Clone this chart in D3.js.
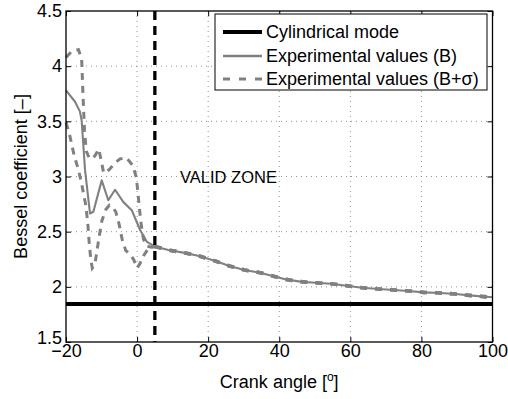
<!DOCTYPE html>
<html><head><meta charset="utf-8">
<script src="https://cdn.jsdelivr.net/npm/d3@7"></script>
<style>
html,body{margin:0;padding:0;background:#fff;}
svg text{font-family:"Liberation Sans",Arial,Helvetica,sans-serif;fill:#000;}
</style>
</head><body>
<svg id="chart" width="508" height="399"></svg>
<script>
// ---- data ----
const xTicks = [-20, 0, 20, 40, 60, 80, 100];
const yTicks = [1.5, 2, 2.5, 3, 3.5, 4, 4.5];
const cylindricalMode = 1.844;
const validZoneAngle = 5;

// Experimental values (B), left part
const bLeft = [
  [-20, 3.78], [-17.5, 3.68], [-16.1, 3.59], [-15.6, 3.51], [-14.65, 3.06],
  [-13.25, 2.665], [-12.3, 2.68], [-9.95, 2.965], [-8.1, 2.785], [-6.2, 2.88],
  [-3.9, 2.77], [-1.5, 2.695], [0.85, 2.515], [2.7, 2.41], [5.0, 2.365]
];
// Upper dashed curve (B+sigma), left part
const upperLeft = [
  [-20, 4.08], [-18.5, 4.13], [-16.5, 4.15], [-15.6, 4.07], [-15.2, 3.72],
  [-14.8, 3.42], [-14.3, 3.23], [-13.5, 3.17], [-12.6, 3.16], [-11.8, 3.19],
  [-10.8, 3.25], [-10.0, 3.13], [-9.4, 3.03], [-7.9, 3.06], [-6.3, 3.12],
  [-4.8, 3.16], [-3.0, 3.17], [-1.2, 3.1], [-0.2, 2.99], [0.4, 2.8],
  [1.0, 2.6], [1.8, 2.43], [2.7, 2.37], [4.0, 2.36], [5.0, 2.365]
];
// Lower dashed curve, left part
const lowerLeft = [
  [-20, 3.49], [-19, 3.38], [-17.7, 3.19], [-16.4, 3.05], [-15.4, 2.9],
  [-14.5, 2.75], [-13.9, 2.59], [-13.5, 2.41], [-13.0, 2.24], [-12.6, 2.17],
  [-11.9, 2.2], [-11.4, 2.3], [-10.7, 2.45], [-9.9, 2.6], [-8.8, 2.7],
  [-7.8, 2.74], [-6.8, 2.72], [-6.0, 2.68], [-5.0, 2.56], [-4.2, 2.43],
  [-3.2, 2.33], [-2.2, 2.3], [-1.0, 2.25], [0.0, 2.17], [0.8, 2.21],
  [1.8, 2.28], [3.0, 2.34], [4.2, 2.36], [5.0, 2.365]
];
// Shared tail where all three curves coincide
const commonTail = [
  [5.0, 2.365], [8.8, 2.334], [13, 2.31], [17.5, 2.279], [22, 2.234],
  [26, 2.189], [30.2, 2.153], [34.6, 2.128], [38.9, 2.092], [41.7, 2.068],
  [45.9, 2.047], [50.1, 2.037], [54.6, 2.028], [59.5, 2.008], [63.3, 1.992],
  [68, 1.98], [72.2, 1.971], [76.4, 1.962], [80.6, 1.95], [85.4, 1.944],
  [89.6, 1.935], [94.3, 1.92], [100, 1.905]
];
const legendLabels = ["Cylindrical mode", "Experimental values (B)", "Experimental values (B+\u03c3)"];

// ---- layout ----
const L = 66, R = 492.5, T = 11, B = 342;
const svg = d3.select("#chart");
const x = d3.scaleLinear().domain([-20, 100]).range([L, R]);
const y = d3.scaleLinear().domain([1.5, 4.5]).range([B, T]);
const gray = "#808080";
const FS = 18;

// grid
const grid = svg.append("g");
grid.selectAll("line.gx").data(xTicks.slice(1, -1)).join("line")
  .attr("x1", d => x(d)).attr("x2", d => x(d)).attr("y1", T).attr("y2", B)
  .attr("stroke", "#777").attr("stroke-width", 0.8).attr("stroke-dasharray", "1,4");
grid.selectAll("line.gy").data(yTicks.slice(1, -1)).join("line")
  .attr("y1", d => y(d)).attr("y2", d => y(d)).attr("x1", L).attr("x2", R)
  .attr("stroke", "#777").attr("stroke-width", 0.8).attr("stroke-dasharray", "1,4");

const line = d3.line().x(d => x(d[0])).y(d => y(d[1]));

// cylindrical mode
svg.append("line").attr("x1", x(-20)).attr("x2", x(100))
  .attr("y1", y(cylindricalMode)).attr("y2", y(cylindricalMode))
  .attr("stroke", "#000").attr("stroke-width", 4);

// curves
svg.append("path").datum(bLeft.concat(commonTail.slice(1))).attr("d", line)
  .attr("fill", "none").attr("stroke", gray).attr("stroke-width", 2.1).attr("stroke-linejoin", "round");
[upperLeft, lowerLeft].forEach(s => {
  svg.append("path").datum(s).attr("d", line)
    .attr("fill", "none").attr("stroke", gray).attr("stroke-width", 3)
    .attr("stroke-dasharray", "7,6");
  svg.append("path").datum(commonTail).attr("d", line)
    .attr("fill", "none").attr("stroke", gray).attr("stroke-width", 3.6)
    .attr("stroke-dasharray", "7,8");
});

// valid zone line
svg.append("line").attr("x1", x(validZoneAngle)).attr("x2", x(validZoneAngle))
  .attr("y1", T).attr("y2", B)
  .attr("stroke", "#000").attr("stroke-width", 3.3).attr("stroke-dasharray", "9,6");

svg.append("text").attr("x", 180).attr("y", 183).attr("font-size", 16.5).text("VALID ZONE");

// axes
const axB = d3.axisBottom(x).tickValues(xTicks).tickSizeInner(-5).tickSizeOuter(0).tickPadding(2)
  .tickFormat(d => d < 0 ? "\u2212" + Math.abs(d) : d);
const axL = d3.axisLeft(y).tickValues(yTicks).tickSizeInner(-5).tickSizeOuter(0).tickPadding(4)
  .tickFormat(d3.format("~g"));
const axT = d3.axisTop(x).tickValues(xTicks).tickSizeInner(-5).tickSizeOuter(0).tickFormat("");
const axR = d3.axisRight(y).tickValues(yTicks).tickSizeInner(-5).tickSizeOuter(0).tickFormat("");
function styleAxis(g) {
  g.select(".domain").remove();
  g.selectAll("line").attr("stroke", "#000").attr("stroke-width", 1);
  g.selectAll("text").attr("font-size", FS).attr("font-family", "Liberation Sans, Arial, sans-serif").attr("fill", "#000");
}
svg.append("g").attr("transform", `translate(0,${B})`).call(axB).call(styleAxis);
const gL = svg.append("g").attr("transform", `translate(${L},0)`).call(axL).call(styleAxis);
// lift the lowest y label slightly so it sits above the x labels, as in the reference
gL.selectAll(".tick").filter(d => d === 1.5).select("text").attr("dy", "0.1em");
svg.append("g").attr("transform", `translate(0,${T})`).call(axT).call(styleAxis);
svg.append("g").attr("transform", `translate(${R},0)`).call(axR).call(styleAxis);
svg.append("rect").attr("x", L).attr("y", T).attr("width", R - L).attr("height", B - T)
  .attr("fill", "none").attr("stroke", "#000").attr("stroke-width", 1.3);

// axis labels
const xl = svg.append("text").attr("x", (L + R) / 2).attr("y", 388).attr("text-anchor", "middle").attr("font-size", FS);
xl.append("tspan").text("Crank angle [");
xl.append("tspan").attr("font-size", 12).attr("dy", -7).text("o");
xl.append("tspan").attr("dy", 7).text("]");
svg.append("text").attr("transform", `translate(26.5,${(T + B) / 2}) rotate(-90)`)
  .attr("text-anchor", "middle").attr("font-size", FS).text("Bessel coefficient [\u2013]");

// legend
const lg = svg.append("g");
lg.append("rect").attr("x", 215).attr("y", 14).attr("width", 272).attr("height", 76)
  .attr("fill", "#fff").attr("stroke", "#000").attr("stroke-width", 1);
const rowsY = [32, 56, 79];
const styles = [
  {c: "#000", w: 4, d: null},
  {c: gray, w: 2.5, d: null},
  {c: gray, w: 3, d: "7,9"}
];
legendLabels.forEach((t, i) => {
  const ln = lg.append("line").attr("x1", 223).attr("x2", 262).attr("y1", rowsY[i]).attr("y2", rowsY[i])
    .attr("stroke", styles[i].c).attr("stroke-width", styles[i].w);
  if (styles[i].d) ln.attr("stroke-dasharray", styles[i].d);
  lg.append("text").attr("x", 266).attr("y", rowsY[i]).attr("dy", "0.35em").attr("font-size", FS).text(t);
});
</script>
</body></html>
